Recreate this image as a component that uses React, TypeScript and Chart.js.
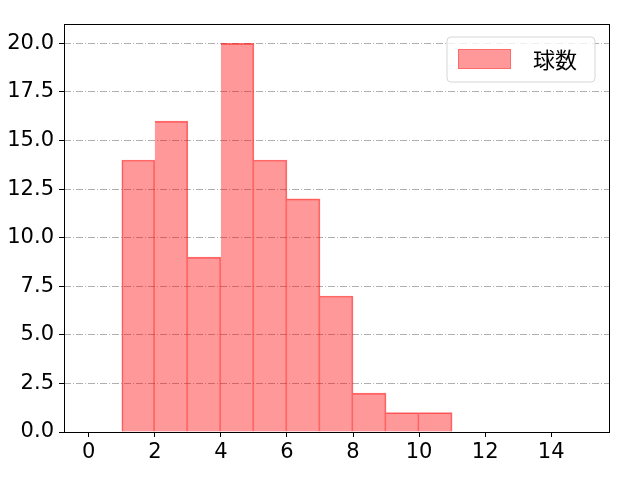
import React, { useEffect, useRef } from "react";
import { Chart, registerables } from "chart.js";

Chart.register(...registerables);

const binStarts = [1, 2, 3, 4, 5, 6, 7, 8, 9, 10];
const counts = [14, 16, 9, 20, 14, 12, 7, 2, 1, 1];
const seriesLabel = "球数";
const xTicks = [0, 2, 4, 6, 8, 10, 12, 14];
const yTicks = [0, 2.5, 5, 7.5, 10, 12.5, 15, 17.5, 20];

const FONT = "'DejaVu Sans', sans-serif";
const FACE = "rgba(255,0,0,0.4)";
const EDGE = "rgba(255,0,0,0.55)";

const framePlugin = {
  id: "frame",
  afterDatasetsDraw(chart: any) {
    const { ctx, chartArea: a } = chart;
    ctx.save();
    ctx.strokeStyle = "#000";
    ctx.lineWidth = 1;
    ctx.strokeRect(Math.round(a.left) + 0.5, Math.round(a.top) + 0.5, Math.round(a.right - a.left), Math.round(a.bottom - a.top));
    // legend
    const bx = 447, by = 37, bw = 148, bh = 45, r = 4;
    ctx.fillStyle = "rgba(255,255,255,0.8)";
    ctx.strokeStyle = "#d6d6d6";
    ctx.beginPath();
    ctx.moveTo(bx + r, by);
    ctx.lineTo(bx + bw - r, by);
    ctx.quadraticCurveTo(bx + bw, by, bx + bw, by + r);
    ctx.lineTo(bx + bw, by + bh - r);
    ctx.quadraticCurveTo(bx + bw, by + bh, bx + bw - r, by + bh);
    ctx.lineTo(bx + r, by + bh);
    ctx.quadraticCurveTo(bx, by + bh, bx, by + bh - r);
    ctx.lineTo(bx, by + r);
    ctx.quadraticCurveTo(bx, by, bx + r, by);
    ctx.closePath();
    ctx.fill();
    ctx.stroke();
    ctx.fillStyle = FACE;
    ctx.fillRect(458, 49, 53, 20);
    ctx.strokeStyle = "rgba(255,0,0,0.3)";
    ctx.strokeRect(458.5, 49.5, 52, 19);
    ctx.fillStyle = "#000";
    ctx.font = "22px 'Noto Sans CJK JP', sans-serif";
    ctx.textBaseline = "middle";
    ctx.fillText(chart.data.datasets[0].label, 533, 60);
    ctx.restore();
  },
};

export default function App() {
  const ref = useRef<HTMLCanvasElement>(null);
  useEffect(() => {
    document.body.style.margin = "0";
    const chart = new Chart(ref.current!, {
      type: "bar",
      data: {
        datasets: [
          {
            label: seriesLabel,
            data: binStarts.map((s, i) => ({ x: s + 0.5, y: counts[i] })),
            backgroundColor: FACE,
            borderColor: EDGE,
            borderWidth: (c: any) => ({ top: 1, right: 1, bottom: 0, left: c.dataIndex === 0 ? 1 : 0 }),
            borderSkipped: false,
            barPercentage: 1,
            categoryPercentage: 1,
          },
        ],
      },
      options: {
        animation: false,
        responsive: false,
        layout: { padding: { left: 0, top: 24, right: 31, bottom: 0 } },
        plugins: { legend: { display: false }, tooltip: { enabled: false } },
        scales: {
          x: {
            type: "linear",
            offset: false,
            min: -0.75,
            max: 15.75,
            afterBuildTicks: (s: any) => {
              s.ticks = xTicks.map((v) => ({ value: v }));
            },
            afterFit: (s: any) => {
              s.height = 48;
            },
            grid: { offset: false, drawOnChartArea: false, drawTicks: true, tickLength: 5, color: "#000" },
            border: { display: false },
            ticks: { font: { family: FONT, size: 21 }, color: "#000", padding: 3, maxRotation: 0 },
          },
          y: {
            min: 0,
            max: 21,
            afterBuildTicks: (s: any) => {
              s.ticks = yTicks.map((v) => ({ value: v }));
            },
            afterFit: (s: any) => {
              s.width = 64;
            },
            grid: {
              color: "#b0b0b0",
              lineWidth: 1,
              drawTicks: true,
              tickLength: 5,
              tickColor: "#000",
              tickBorderDash: [],
            },
            border: { display: false, dash: [7, 2, 1, 2] },
            ticks: {
              font: { family: FONT, size: 21 },
              color: "#000",
              padding: 5,
              callback: (v: any) => Number(v).toFixed(1),
            },
          },
        },
      },
      plugins: [framePlugin],
    });
    return () => chart.destroy();
  }, []);
  return <canvas ref={ref} width={640} height={480} style={{ display: "block" }} />;
}
